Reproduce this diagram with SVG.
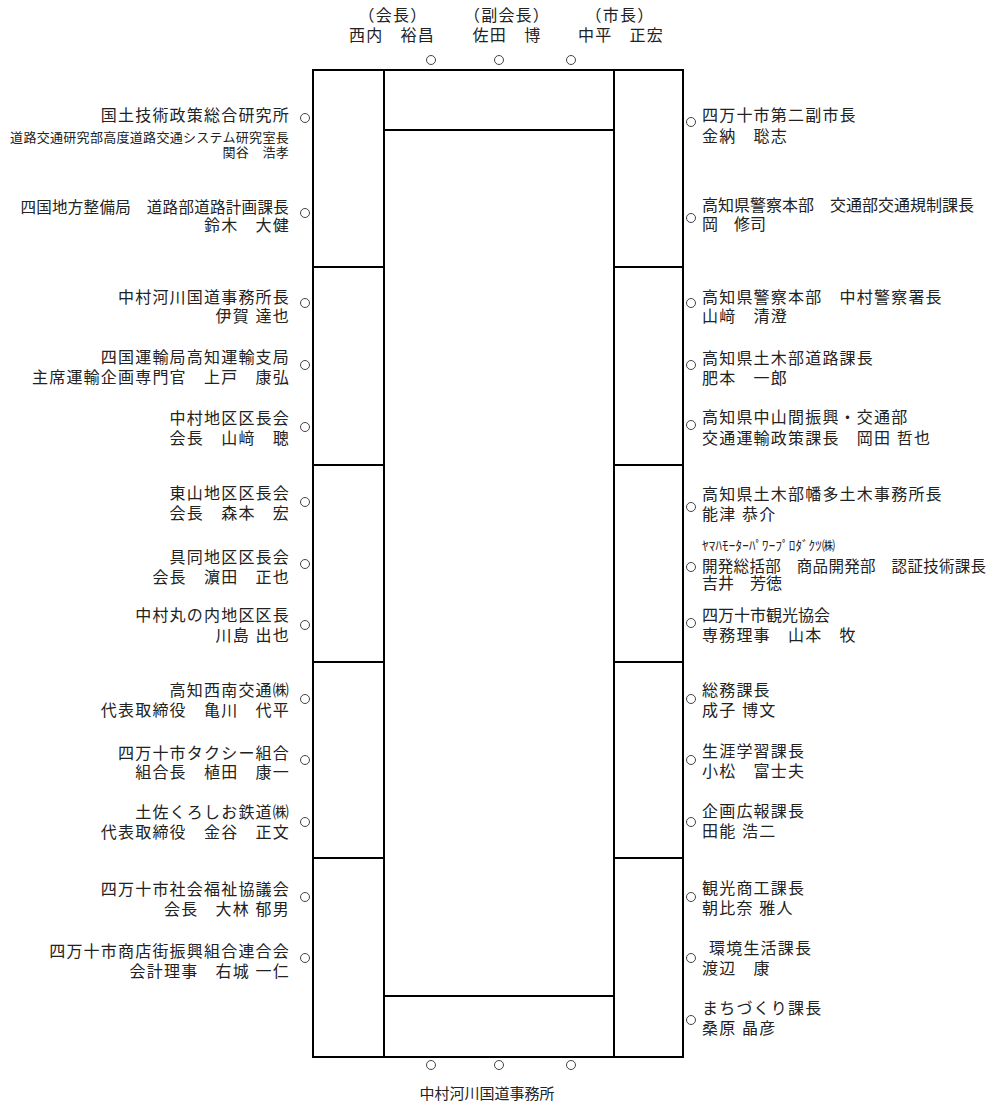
<svg xmlns="http://www.w3.org/2000/svg" width="993" height="1109" viewBox="0 0 993 1109">
<style>
text{font-family:"Liberation Sans","Noto Sans CJK JP","Noto Sans CJK SC",sans-serif;font-size:16px;letter-spacing:1.2px;fill:#222}
.l{text-anchor:end}
.m{text-anchor:middle}
.s{font-size:13px;letter-spacing:0.3px}
.n{letter-spacing:0}
.c{font-size:15.5px;letter-spacing:0.3px}
.seat{fill:#fff;stroke:#444;stroke-width:1}
.tbl{fill:none;stroke:#000;stroke-width:2}
</style>
<defs><circle id="c" r="4.5" class="seat"/></defs>
<rect width="993" height="1109" fill="#fff"/>
<g id="table">
<rect class="tbl" x="313" y="70" width="370" height="987"/>
<path class="tbl" d="M384 70V1057M614 70V1057M384 130H614M384 996H614M313 267H384M313 465H384M313 662H384M313 858H384M614 267H683M614 465H683M614 662H683M614 858H683"/>
</g>
<g id="head">
<g id="seat-t1"><use href="#c" x="431" y="60"/><text class="m"><tspan x="393" y="21">（会長）</tspan><tspan x="392" y="41">西内　裕昌</tspan></text></g>
<g id="seat-t2"><use href="#c" x="499" y="60"/><text class="m"><tspan x="507" y="21">（副会長）</tspan><tspan x="507" y="41">佐田　博</tspan></text></g>
<g id="seat-t3"><use href="#c" x="571" y="60"/><text class="m"><tspan x="620" y="21">（市長）</tspan><tspan x="621" y="41">中平　正宏</tspan></text></g>
</g>
<g id="left">
<g id="seat-l1"><use href="#c" x="305" y="118"/><text class="l"><tspan x="290" y="121">国土技術政策総合研究所</tspan><tspan class="s" x="289" y="142">道路交通研究部高度道路交通システム研究室長</tspan><tspan class="s" x="289" y="157">関谷　浩孝</tspan></text></g>
<g id="seat-l2"><use href="#c" x="305" y="213"/><text class="l"><tspan class="c" x="289" y="213">四国地方整備局　道路部道路計画課長</tspan><tspan x="290" y="231">鈴木　大健</tspan></text></g>
<g id="seat-l3"><use href="#c" x="305" y="303"/><text class="l"><tspan x="290" y="303">中村河川国道事務所長</tspan><tspan x="290" y="322">伊賀 達也</tspan></text></g>
<g id="seat-l4"><use href="#c" x="305" y="365"/><text class="l"><tspan x="290" y="363">四国運輸局高知運輸支局</tspan><tspan x="290" y="383">主席運輸企画専門官　上戸　康弘</tspan></text></g>
<g id="seat-l5"><use href="#c" x="305" y="427"/><text class="l"><tspan x="290" y="424">中村地区区長会</tspan><tspan x="290" y="444">会長　山﨑　聰</tspan></text></g>
<g id="seat-l6"><use href="#c" x="305" y="502"/><text class="l"><tspan x="290" y="499">東山地区区長会</tspan><tspan x="290" y="519">会長　森本　宏</tspan></text></g>
<g id="seat-l7"><use href="#c" x="305" y="564"/><text class="l"><tspan x="290" y="563">具同地区区長会</tspan><tspan x="290" y="583">会長　濵田　正也</tspan></text></g>
<g id="seat-l8"><use href="#c" x="305" y="625"/><text class="l"><tspan x="290" y="621">中村丸の内地区区長</tspan><tspan x="290" y="641">川島 出也</tspan></text></g>
<g id="seat-l9"><use href="#c" x="305" y="699"/><text class="l"><tspan x="290" y="696">高知西南交通㈱</tspan><tspan x="290" y="716">代表取締役　亀川　代平</tspan></text></g>
<g id="seat-l10"><use href="#c" x="305" y="760"/><text class="l"><tspan x="290" y="759">四万十市タクシー組合</tspan><tspan x="290" y="778">組合長　植田　康一</tspan></text></g>
<g id="seat-l11"><use href="#c" x="305" y="822"/><text class="l"><tspan x="290" y="818">土佐くろしお鉄道㈱</tspan><tspan x="290" y="838">代表取締役　金谷　正文</tspan></text></g>
<g id="seat-l12"><use href="#c" x="305" y="897"/><text class="l"><tspan x="290" y="895">四万十市社会福祉協議会</tspan><tspan x="290" y="915">会長　大林 郁男</tspan></text></g>
<g id="seat-l13"><use href="#c" x="305" y="958"/><text class="l"><tspan x="290" y="957">四万十市商店街振興組合連合会</tspan><tspan x="290" y="977">会計理事　右城 一仁</tspan></text></g>
</g>
<g id="right">
<g id="seat-r1"><use href="#c" x="691" y="122"/><text><tspan x="702" y="121">四万十市第二副市長</tspan><tspan x="702" y="142">金納　聡志</tspan></text></g>
<g id="seat-r2"><use href="#c" x="691" y="218"/><text><tspan class="n" x="702" y="211">高知県警察本部　交通部交通規制課長</tspan><tspan class="n" x="702" y="230">岡　修司</tspan></text></g>
<g id="seat-r3"><use href="#c" x="691" y="303"/><text><tspan x="702" y="303">高知県警察本部　中村警察署長</tspan><tspan x="702" y="322">山﨑　清澄</tspan></text></g>
<g id="seat-r4"><use href="#c" x="691" y="365"/><text><tspan x="702" y="364">高知県土木部道路課長</tspan><tspan x="702" y="384">肥本　一郎</tspan></text></g>
<g id="seat-r5"><use href="#c" x="691" y="425"/><text><tspan x="702" y="423">高知県中山間振興・交通部</tspan><tspan x="702" y="444">交通運輸政策課長　岡田 哲也</tspan></text></g>
<g id="seat-r6"><use href="#c" x="691" y="507"/><text><tspan x="702" y="500">高知県土木部幡多土木事務所長</tspan><tspan x="702" y="520">能津 恭介</tspan></text></g>
<g id="seat-r7"><use href="#c" x="691" y="567"/><text><tspan class="s" x="702" y="550" style="letter-spacing:0.2px">ﾔﾏﾊﾓｰﾀｰﾊﾟﾜｰﾌﾟﾛﾀﾞｸﾂ㈱</tspan><tspan class="c" x="702" y="572">開発総括部　商品開発部　認証技術課長</tspan><tspan class="n" x="702" y="589">吉井　芳徳</tspan></text></g>
<g id="seat-r8"><use href="#c" x="691" y="623"/><text><tspan class="n" x="702" y="621">四万十市観光協会</tspan><tspan x="702" y="641">専務理事　山本　牧</tspan></text></g>
<g id="seat-r9"><use href="#c" x="691" y="699"/><text><tspan x="702" y="696">総務課長</tspan><tspan x="702" y="716">成子 博文</tspan></text></g>
<g id="seat-r10"><use href="#c" x="691" y="760"/><text><tspan x="702" y="757">生涯学習課長</tspan><tspan x="702" y="777">小松　富士夫</tspan></text></g>
<g id="seat-r11"><use href="#c" x="691" y="822"/><text><tspan x="702" y="817">企画広報課長</tspan><tspan x="702" y="837">田能 浩二</tspan></text></g>
<g id="seat-r12"><use href="#c" x="691" y="897"/><text><tspan x="702" y="894">観光商工課長</tspan><tspan x="702" y="914">朝比奈 雅人</tspan></text></g>
<g id="seat-r13"><use href="#c" x="691" y="958"/><text><tspan x="709" y="954">環境生活課長</tspan><tspan x="702" y="974">渡辺　康</tspan></text></g>
<g id="seat-r14"><use href="#c" x="691" y="1020"/><text><tspan x="702" y="1014">まちづくり課長</tspan><tspan x="702" y="1034">桑原 晶彦</tspan></text></g>
</g>
<g id="foot">
<g id="seat-b"><use href="#c" x="431" y="1065"/><use href="#c" x="499" y="1065"/><use href="#c" x="571" y="1065"/><text class="m" x="487" y="1099" style="font-size:15px;letter-spacing:0">中村河川国道事務所</text></g>
</g>
</svg>
